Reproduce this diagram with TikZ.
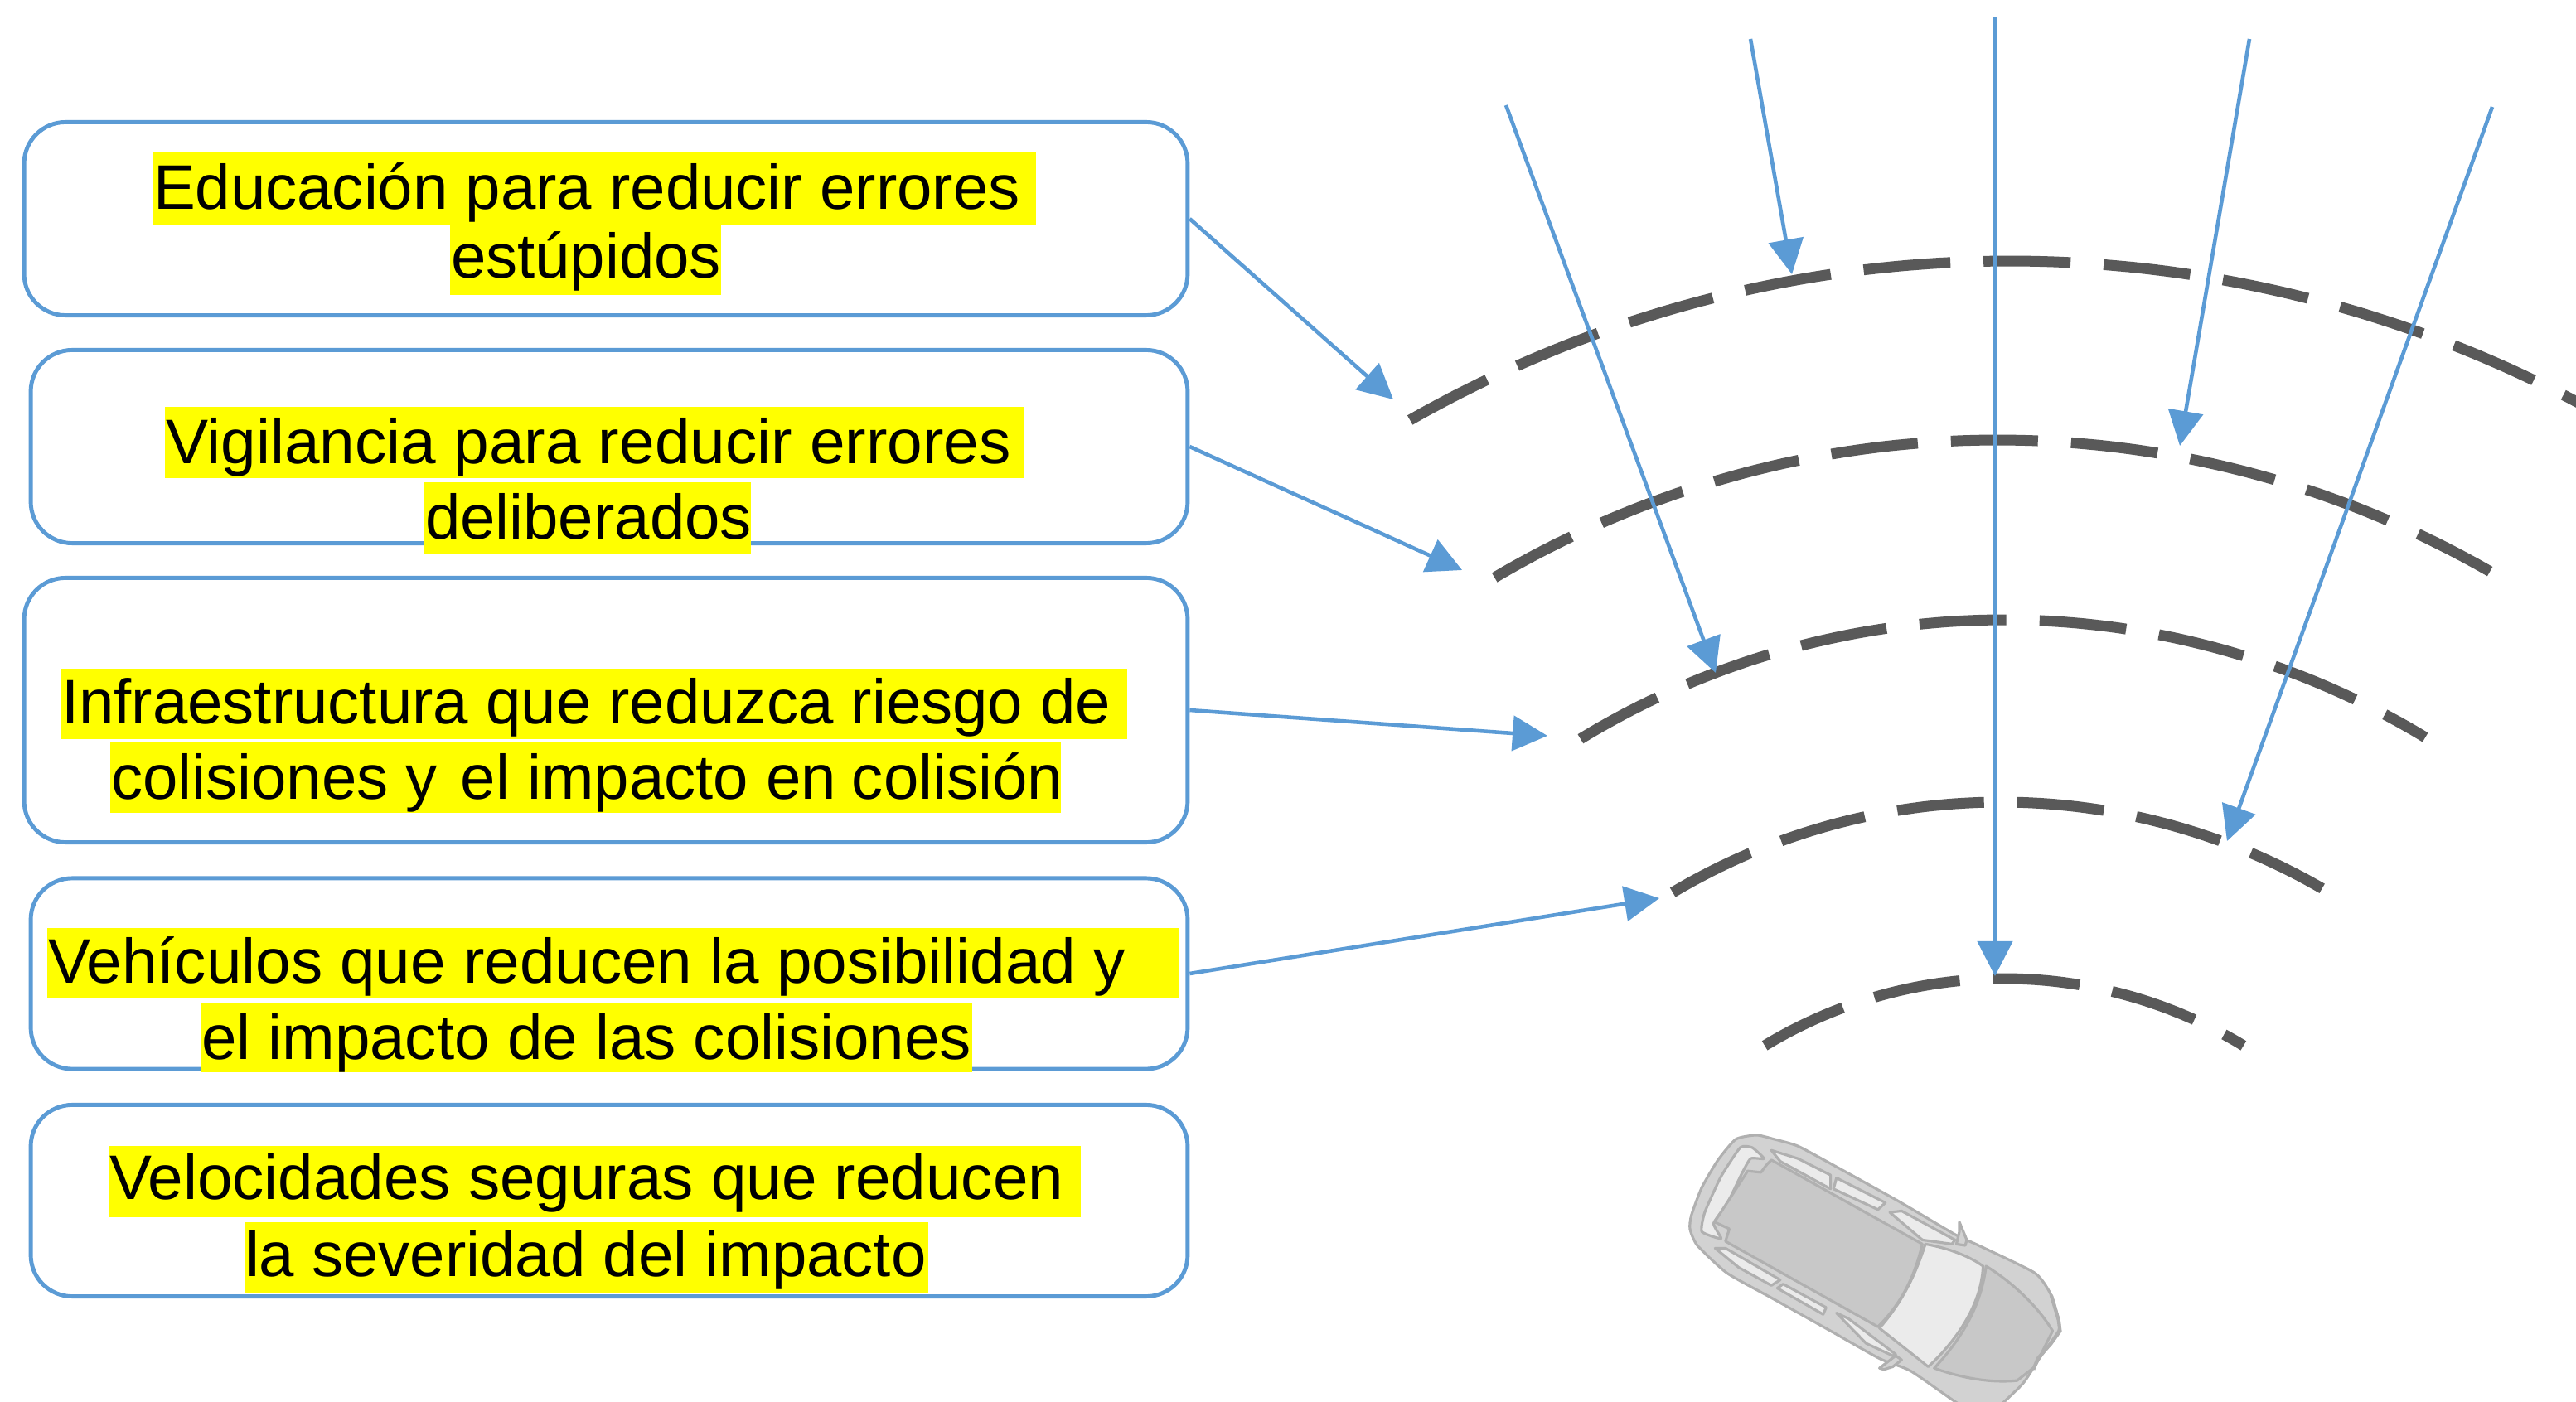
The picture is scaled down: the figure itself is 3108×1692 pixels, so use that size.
\documentclass[tikz,border=0pt]{standalone}
\usepackage{fontspec}
\usepackage{graphicx}
\setmainfont{Liberation Sans}
\usetikzlibrary{arrows.meta}
\definecolor{linkblue}{HTML}{5B9BD5}
\definecolor{roaddark}{HTML}{595959}
\definecolor{markyellow}{HTML}{FFFF00}
\definecolor{carbody}{HTML}{D2D2D2}
\definecolor{carroof}{HTML}{C8C8C8}
\definecolor{carlight}{HTML}{EBEBEB}
\definecolor{carline}{HTML}{B0B0B0}
\tikzset{
  x=0.01cm,y=-0.01cm,
  panel/.style={draw=linkblue,line width=1.4pt,rounded corners=0.5cm,fill=white,inner sep=0pt},
  link/.style={draw=linkblue,line width=1.3pt,-{Triangle[length=0.42cm,width=0.42cm]},shorten >=0pt},
  marktext/.style={anchor=base west,inner sep=0pt,outer sep=0pt,font=\fontsize{21.6pt}{24pt}\selectfont},
  markbox/.style={fill=markyellow,inner sep=0pt,outer sep=0pt,draw=none},
  road/.style={draw=roaddark,line width=3.7pt,dash pattern=on 1.05cm off 0.4cm},
  carshape/.style={draw=carline,line width=0.9pt,fill=#1,line join=round},
}
% name, x0, x1, y0, y1, baseline shift, text x-scale, text
\newcommand{\markline}[8]{%
  \node[markbox,minimum width={(#3-#2)*0.01cm},minimum height={(#5-#4)*0.01cm}] (#1) at ({(#2+#3)/2},{(#4+#5)/2}) {};
  \node[marktext] (#1t) at ({#2+1},{#4+67+#6}) {\scalebox{#7}[1]{#8}};
}
\newcommand{\roadarc}[5]{%
  \draw[road] plot[domain=#4:#5,samples=90,smooth] ({#1+#3*cos(\x)},{#2-#3*sin(\x)});
}
\begin{document}
\begin{tikzpicture}
\useasboundingbox (0,0) rectangle (3108,1692);
\fill[white] (0,0) rectangle (3108,1692);
% panels
\node[panel,minimum width=14.03cm,minimum height=2.33cm] (b1) at (731,264) {};
\node[panel,minimum width=13.95cm,minimum height=2.33cm] (b2) at (735,539) {};
\node[panel,minimum width=14.03cm,minimum height=3.19cm] (b3) at (731,857) {};
\node[panel,minimum width=13.95cm,minimum height=2.30cm] (b4) at (735,1175) {};
\node[panel,minimum width=13.95cm,minimum height=2.31cm] (b5) at (735,1449) {};
% highlighted text
\markline{t1a}{184}{1250}{184}{271}{2}{1.003}{Educación para reducir errores}
\markline{t1b}{543}{870}{271}{356}{-2}{1.003}{estúpidos}
\markline{t2a}{199}{1236}{491}{577}{2}{1.008}{Vigilancia para reducir errores}
\markline{t2b}{512}{906}{582}{669}{2}{1.003}{deliberados}
\markline{t3a}{73}{1360}{807}{892}{0}{1.003}{Infraestructura que reduzca riesgo de}
\markline{t3b}{133}{1280}{896}{981}{2}{1.003}{colisiones y\kern0.37em el impacto en\kern0.25em colisión}
\markline{t4a}{57}{1423}{1120}{1205}{0}{1.006}{Vehículos que reducen la posibilidad y}
\markline{t4b}{242}{1173}{1211}{1294}{0}{1.005}{el impacto de las colisiones}
\markline{t5a}{131}{1304}{1383}{1469}{-2}{1.006}{Velocidades seguras que reducen}
\markline{t5b}{295}{1120}{1475}{1560}{-2}{1.003}{la severidad del impacto}
% road arcs
\roadarc{2425}{1776}{1461}{119.7}{62}
\roadarc{2410}{1723}{1192}{120.6}{60.1}
\roadarc{2418}{1729}{981}{121.4}{58.8}
\roadarc{2414}{1741}{773}{120.8}{59.9}
\roadarc{2418}{1737}{556}{121.3}{58.7}
% free ends
\coordinate (e1) at (1681,482);
\coordinate (e2) at (1764,688);
\coordinate (e3) at (1867,888);
\coordinate (e4) at (2002,1084);
\coordinate (s5) at (1817,127);
\coordinate (e5) at (2070,812);
\coordinate (s6) at (2112,47);
\coordinate (e6) at (2162,331);
\coordinate (s7) at (2407,21);
\coordinate (e7) at (2407,1178);
\coordinate (s8) at (2714,47);
\coordinate (e8) at (2630,538);
\coordinate (s9) at (3007,129);
\coordinate (e9) at (2687,1015);
\draw[link] (b1.east) -- (e1);
\draw[link] (b2.east) -- (e2);
\draw[link] (b3.east) -- (e3);
\draw[link] (b4.east) -- (e4);
\draw[link] (s5) -- (e5);
\draw[link] (s6) -- (e6);
\draw[link] (s7) -- (e7);
\draw[link] (s8) -- (e8);
\draw[link] (s9) -- (e9);
% car
\begin{scope}[shift={(1980,1320)},x=0.003571cm,y=-0.003333cm]
\clip (0,0) rectangle (1568,1116);
\draw[carshape=carbody] plot[smooth cycle,tension=0.35] coordinates {(390,150)(320,165)(260,240)(205,340)(170,440)(165,490)(190,550)(290,650)(440,740)(640,860)(805,960)(910,1005)(1060,1116)(1130,1160)(1200,1140)(1290,1050)(1345,960)(1410,860)(1410,820)(1385,730)(1330,650)(1140,550)(1060,510)(870,390)(660,265)(530,190)(450,165)};
\draw[carshape=carlight] plot[smooth cycle,tension=0.3] coordinates {(335,195)(375,195)(415,235)(370,235)(340,290)(290,400)(245,470)(270,525)(205,500)(215,430)(270,300)};
\draw[carshape=carroof] (440,240) -- (950,545) .. controls (920,680) and (870,770) .. (800,845) -- (285,535) -- (298,490) -- (248,465) -- (360,280) -- (405,285) -- (422,260) -- cycle;
\draw[carshape=carlight] (440,205) -- (530,235) -- (640,295) -- (640,345) -- (470,245) -- cycle;
\draw[carshape=carlight] (660,305) -- (825,395) -- (800,420) -- (650,345) -- cycle;
\draw[carshape=carlight] (840,430) -- (880,425) -- (1060,530) -- (1050,545) -- (950,530) -- cycle;
\draw[carshape=carlight] (250,560) -- (285,560) -- (470,675) -- (440,695) -- (330,630) -- cycle;
\draw[carshape=carlight] (460,705) -- (480,690) -- (625,775) -- (615,800) -- cycle;
\draw[carshape=carlight] (660,795) -- (700,815) -- (860,945) -- (850,950) -- (760,905) -- cycle;
\draw[carshape=carlight] (960,545) .. controls (1040,560) and (1110,590) .. (1155,625) .. controls (1150,760) and (1070,890) .. (970,990) -- (805,850) .. controls (870,770) and (920,680) .. (960,545) -- cycle;
\draw[carshape=carroof] (1165,625) .. controls (1250,680) and (1340,770) .. (1390,860) -- (1330,990) -- (1270,1040) .. controls (1180,1050) and (1080,1030) .. (990,995) .. controls (1090,880) and (1150,760) .. (1165,625) -- cycle;
\draw[carshape=carbody] (1075,465) -- (1100,530) -- (1095,550) -- (1065,545) -- (1075,500) -- cycle;
\draw[carshape=carbody] (805,995) -- (860,950) -- (880,965) -- (850,990) -- (820,1000) -- cycle;
\draw[carline,line width=1.2pt] (1385,730) -- (1410,820) -- (1415,860) -- (1385,905) -- (1340,960) -- (1325,1000);
\end{scope}
\end{tikzpicture}
\end{document}
